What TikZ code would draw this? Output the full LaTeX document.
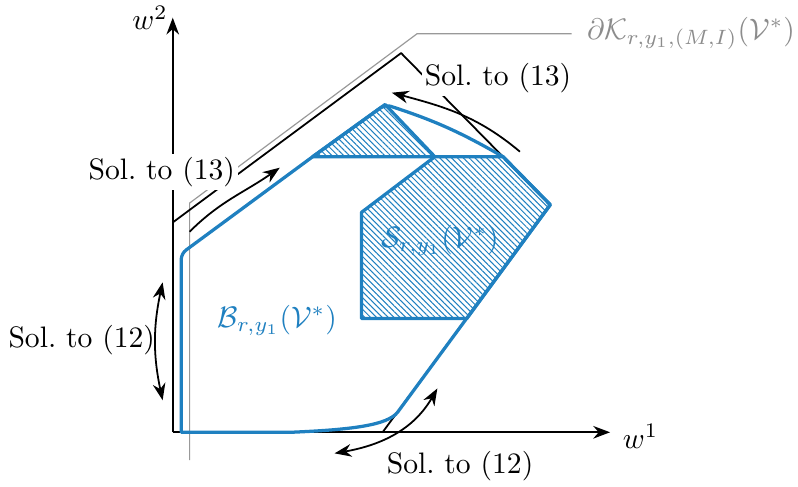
\documentclass[tikz,border=0pt]{standalone}
\usepackage{amsmath, amssymb}
\usepackage{xcolor}
\usetikzlibrary{arrows.meta, patterns.meta}

\definecolor{setblue}{RGB}{31,128,192}

\begin{document}
\begin{tikzpicture}[
  axis/.style={-{Stealth}, semithick},
  bound/.style={semithick, line join=round},
  leader/.style={draw=black!40, thin},
  hull/.style={draw=setblue, line width=1.1pt, line join=round},
  hatch/.style={hull, pattern={Lines[angle=-45, distance=1.4pt, line width=0.35pt]},
                pattern color=setblue},
  solarr/.style={-{Stealth}, semithick},
  dblarr/.style={{Stealth}-{Stealth}, semithick},
  lbl/.style={fill=white, inner sep=1pt},
  font=\normalsize
]
  \useasboundingbox (-2.05,-0.64) rectangle (7.42,5.13);

  \coordinate (O) at (0,0);
  \coordinate (xend) at (5.19,0);
  \coordinate (yend) at (0,4.92);
  \draw[axis] (O) -- (xend);
  \draw[axis] (O) -- (yend);
  \node (w1) at (5.55,-0.05) {$w^1$};
  \node (w2) at (-0.27,4.92) {$w^2$};

  \node[text=black!45, anchor=east, inner sep=0pt] (kbd) at (7.39,4.73) {$\partial\mathcal{K}_{r,y_1,(M,I)}(\mathcal{V}^*)$};
  \draw[leader] (0.20,-0.33) -- (0.20,2.72) -- (2.90,4.73) -- ([xshift=-5pt]kbd.west);

  \draw[bound] (0,2.49) -- (2.71,4.50) -- (4.48,2.70) -- (2.49,0);

  \draw[hull, rounded corners=2pt] (0.10,0) -- (0.10,2.12) -- (1.66,3.27) -- (2.52,3.89)
    [sharp corners] to[out=-18,in=150] (3.92,3.27) -- (4.48,2.70) -- (2.67,0.24)
    .. controls (2.55,0.08) and (2.10,0.03) .. (1.40,0) -- cycle;
  \draw[hatch] (1.66,3.27) -- (2.52,3.89) -- (3.11,3.27) -- cycle;
  \draw[hatch] (3.11,3.27) -- (3.92,3.27) -- (4.48,2.70) -- (3.49,1.35)
    -- (2.24,1.35) -- (2.24,2.61) -- cycle;

  \node[text=setblue] (bset) at (1.24,1.33) {$\mathcal{B}_{r,y_1}(\mathcal{V}^*)$};
  \node[text=setblue] (sset) at (3.17,2.28) {$\mathcal{S}_{r,y_1}(\mathcal{V}^*)$};

  \node[lbl] (s13r) at (3.86,4.20) {Sol.\ to (13)};
  \node[lbl] (s13l) at (-0.13,3.09) {Sol.\ to (13)};
  \node (s12l) at (-1.08,1.09) {Sol.\ to (12)};
  \node (s12b) at (3.41,-0.40) {Sol.\ to (12)};

  \coordinate (a13r) at (4.12,3.33);
  \coordinate (b13r) at (2.60,4.03);
  \coordinate (a13l) at (0.20,2.38);
  \coordinate (b13l) at (1.27,3.14);
  \coordinate (a12l) at (-0.12,1.78);
  \coordinate (b12l) at (-0.12,0.38);
  \coordinate (a12b) at (1.92,-0.25);
  \coordinate (b12b) at (3.14,0.52);

  \draw[solarr] (a13r) to[out=140,in=-15] (b13r);
  \draw[solarr] (a13l) to[out=45,in=-145] (b13l);
  \draw[dblarr] (a12l) to[bend right=12] (b12l);
  \draw[dblarr] (a12b) to[out=10,in=-120] (b12b);
\end{tikzpicture}
\end{document}
